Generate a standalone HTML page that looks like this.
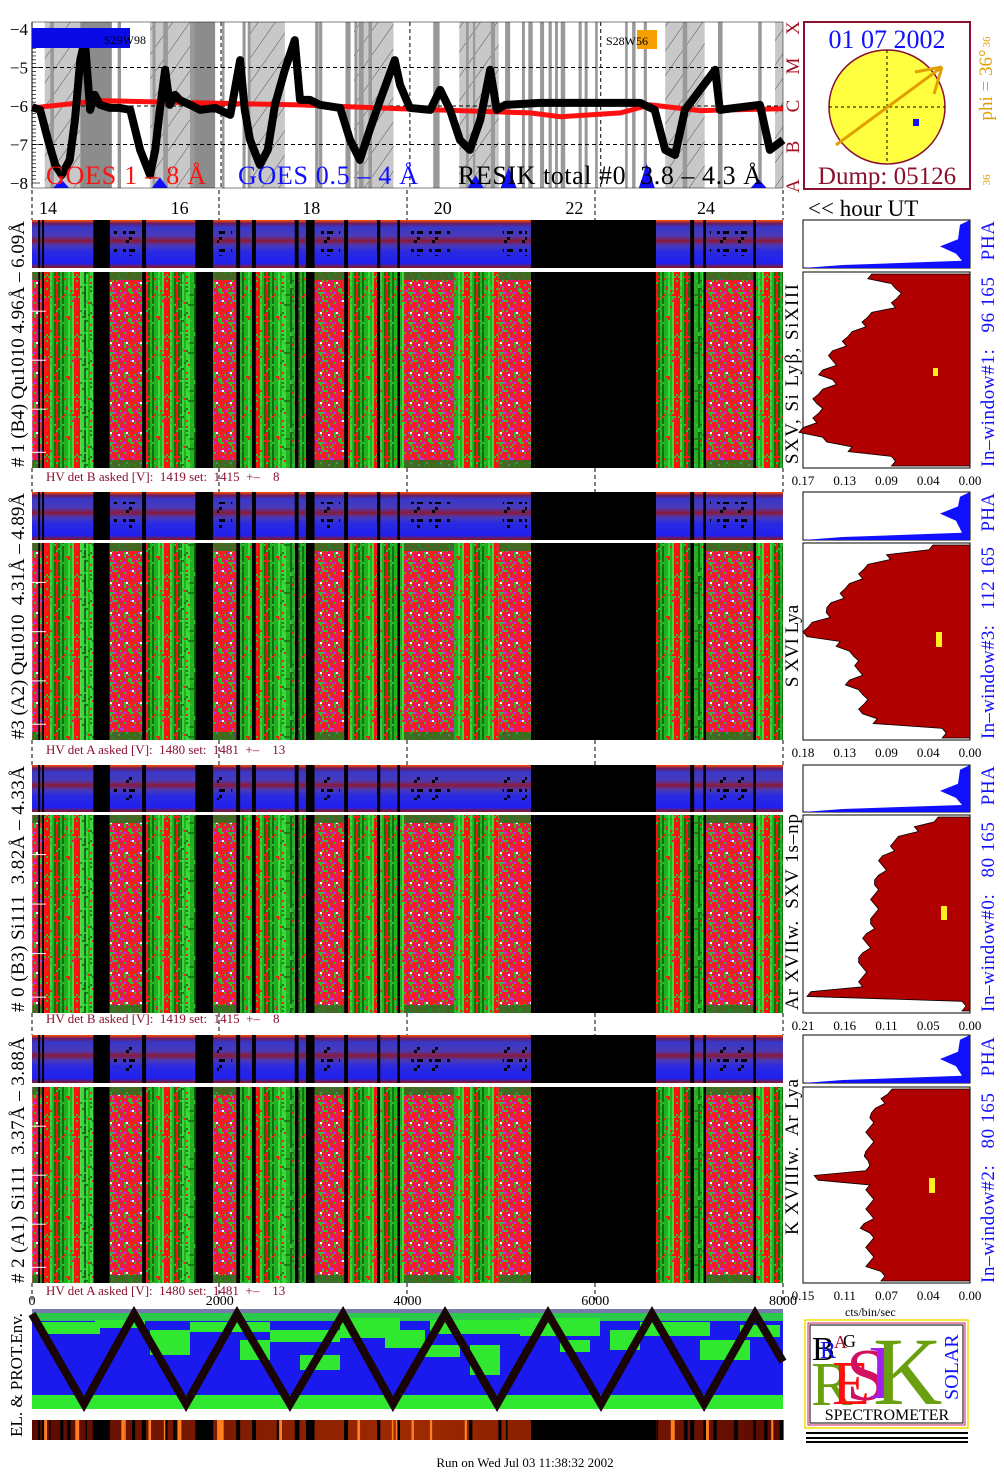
<!DOCTYPE html>
<html><head><meta charset="utf-8"><style>
html,body{margin:0;padding:0;background:#fff;}
svg{display:block;font-family:"Liberation Serif",serif;}
svg text{white-space:pre;}
</style></head><body>
<svg id="root" width="1004" height="1476" viewBox="0 0 1004 1476" xmlns="http://www.w3.org/2000/svg">
<defs>
<pattern id="hatch" width="14" height="14" patternUnits="userSpaceOnUse" patternTransform="rotate(35)">
<rect width="14" height="14" fill="#c8c8c8"/><line x1="0" y1="0" x2="0" y2="14" stroke="#555" stroke-width="1"/></pattern>
<linearGradient id="phaGrad" x1="0" y1="0" x2="0" y2="1">
<stop offset="0" stop-color="#ff5000"/><stop offset="0.07" stop-color="#6a1a60"/><stop offset="0.15" stop-color="#3838c8"/>
<stop offset="0.33" stop-color="#4a3ab8"/><stop offset="0.43" stop-color="#8a1a3a"/><stop offset="0.53" stop-color="#4a3ab8"/>
<stop offset="0.65" stop-color="#2a2ae0"/><stop offset="0.9" stop-color="#2020f0"/><stop offset="1" stop-color="#901818"/></linearGradient>
<linearGradient id="strip" x1="0" y1="0" x2="1" y2="0">
<stop offset="0" stop-color="#5a0a00"/><stop offset="0.5" stop-color="#a02a00"/><stop offset="1" stop-color="#5a0a00"/></linearGradient>
</defs>
<g id="top-panel"></g>
<g id="spec"></g>
<g id="hist"></g>
<g id="env"></g>

<text x="46" y="184" font-size="26" fill="#ff1010" textLength="160">GOES 1 – 8 Å</text>
<text x="238" y="184" font-size="26" fill="#1010ff" textLength="180">GOES 0.5 – 4 Å</text>
<text x="458" y="184" font-size="26" fill="#000" textLength="304">RESIK total #0  3.8 – 4.3 Å</text>
<rect x="32" y="28" width="98" height="20" fill="#0a0ae6"/>
<text x="104" y="44" font-size="12" fill="#000">S29W98</text>
<rect x="637" y="30" width="20" height="19" fill="#f5a000"/>
<text x="606" y="45" font-size="12" fill="#000">S28W56</text>

<g fill="#a01020" font-size="19">
<text transform="translate(799,28) rotate(-90)" text-anchor="middle">X</text>
<text transform="translate(799,66) rotate(-90)" text-anchor="middle">M</text>
<text transform="translate(799,106) rotate(-90)" text-anchor="middle">C</text>
<text transform="translate(799,147) rotate(-90)" text-anchor="middle">B</text>
<text transform="translate(799,186) rotate(-90)" text-anchor="middle">A</text>
</g>

<g>
<rect x="804" y="22" width="166" height="167" fill="#fff" stroke="#8a1030" stroke-width="2"/>
<text x="887" y="48" font-size="26" fill="#1010ff" text-anchor="middle">01 07 2002</text>
<ellipse cx="887" cy="107" rx="58" ry="57" fill="#ffff40" stroke="#8a1030" stroke-width="1.5"/>
<line x1="829" y1="107" x2="945" y2="107" stroke="#000" stroke-dasharray="3,3"/>
<line x1="887" y1="50" x2="887" y2="164" stroke="#000" stroke-dasharray="3,3"/>
<line x1="836" y1="145" x2="942" y2="67" stroke="#e0a000" stroke-width="3"/>
<line x1="942" y1="67" x2="915" y2="72" stroke="#e0a000" stroke-width="3"/>
<line x1="942" y1="67" x2="934" y2="94" stroke="#e0a000" stroke-width="3"/>
<rect x="913" y="119" width="6" height="7" fill="#1010ff"/>
<text x="887" y="184" font-size="25" fill="#8a1030" text-anchor="middle">Dump: 05126</text>
<text transform="translate(992,85) rotate(-90)" font-size="19" fill="#e0a000" text-anchor="middle">phi = 36°</text>
<text transform="translate(990,42) rotate(-90)" font-size="11" fill="#e0a000" text-anchor="middle">36</text>
<text transform="translate(990,180) rotate(-90)" font-size="11" fill="#e0a000" text-anchor="middle">36</text>
</g>
<text x="808" y="216" font-size="23" fill="#000">&lt;&lt; hour UT</text>

<g fill="#000" font-size="19">
<text transform="translate(24,344) rotate(-90)" text-anchor="middle" textLength="246"># 1 (B4) Qu1010 4.96Å – 6.09Å</text>
<text transform="translate(24,616) rotate(-90)" text-anchor="middle" textLength="246">#3 (A2) Qu1010  4.31Å – 4.89Å</text>
<text transform="translate(24,889) rotate(-90)" text-anchor="middle" textLength="246"># 0 (B3) Si111  3.82Å – 4.33Å</text>
<text transform="translate(24,1160) rotate(-90)" text-anchor="middle" textLength="246"># 2 (A1) Si111  3.37Å – 3.88Å</text>
<text transform="translate(798,374) rotate(-90)" text-anchor="middle" textLength="180">SXV, Si Lyβ, SiXIII</text>
<text transform="translate(798,646) rotate(-90)" text-anchor="middle">S XVI Lya</text>
<text transform="translate(798,912) rotate(-90)" text-anchor="middle" textLength="196">Ar XVIIw.  SXV 1s–np</text>
<text transform="translate(798,1157) rotate(-90)" text-anchor="middle" textLength="156">K XVIIIw.  Ar Lya</text>
</g>
<g fill="#1010ff" font-size="19">
<text transform="translate(994,344) rotate(-90)" text-anchor="middle" textLength="246">In–window#1:   96 165   PHA</text>
<text transform="translate(994,616) rotate(-90)" text-anchor="middle" textLength="246">In–window#3:   112 165   PHA</text>
<text transform="translate(994,889) rotate(-90)" text-anchor="middle" textLength="246">In–window#0:   80 165   PHA</text>
<text transform="translate(994,1160) rotate(-90)" text-anchor="middle" textLength="246">In–window#2:   80 165   PHA</text>
</g>
<g fill="#8a1030" font-size="13">
<text x="46" y="481">HV det B asked [V]:  1419 set:  1415  +–    8</text>
<text x="46" y="754">HV det A asked [V]:  1480 set:  1481  +–    13</text>
<text x="46" y="1023">HV det B asked [V]:  1419 set:  1415  +–    8</text>
<text x="46" y="1295">HV det A asked [V]:  1480 set:  1481  +–    13</text>
</g>
<text x="845" y="1316" font-size="12" fill="#000">cts/bin/sec</text>
<text transform="translate(22,1375) rotate(-90)" font-size="17" fill="#000" text-anchor="middle">EL. &amp; PROT.Env.</text>
<text x="525" y="1467" font-size="13" fill="#000" text-anchor="middle">Run on Wed Jul 03 11:38:32 2002</text>

<g>
<rect x="805" y="1320" width="163" height="108" fill="#fff" stroke="#f0e000" stroke-width="1.5"/>
<rect x="808" y="1323" width="157" height="102" fill="none" stroke="#d02060" stroke-width="1"/>
<rect x="810" y="1325" width="153" height="98" fill="none" stroke="#000" stroke-width="1"/>
<text x="812" y="1360" font-size="34" fill="#000">B</text>
<text x="820" y="1358" font-size="24" fill="#1010ff">R</text>
<text x="834" y="1348" font-size="18" fill="#a01030">A</text>
<text x="843" y="1347" font-size="18" fill="#000">G</text>
<text x="811" y="1405" font-size="62" fill="#6aa010">R</text>
<text x="832" y="1404" font-size="62" fill="#ff1010">E</text>
<text x="846" y="1400" font-size="74" fill="#d01060">S</text>
<text x="868" y="1398" font-size="76" fill="#a020f0">I</text>
<text x="873" y="1404" font-size="96" fill="#6aa010">K</text>
<text transform="translate(958,1400) rotate(-90)" font-size="20" fill="#1010ff">SOLAR</text>
<text x="887" y="1420" font-size="16" fill="#000" text-anchor="middle">SPECTROMETER</text>
<rect x="806" y="1432" width="162" height="2" fill="#000"/><rect x="806" y="1437" width="162" height="2" fill="#000"/><rect x="806" y="1441" width="162" height="2" fill="#000"/>
</g>
</svg>
<script>
// ===== data =====
const hourTicks = [14,16,18,20,22,24];
const logTicks = [-4,-5,-6,-7,-8];
const goesHours = [13.76,13.88,14.0,14.11,14.21,14.33,14.41,14.49,14.56,14.64,14.71,14.79,14.94,15.09,15.25,15.40,15.55,15.63,15.70,15.78,15.85,15.93,16.0,16.16,16.31,16.54,16.77,16.92,16.99,17.07,17.22,17.34,17.45,17.60,17.75,17.83,17.98,18.13,18.44,18.59,18.74,18.89,19.05,19.27,19.35,19.50,19.81,19.96,20.11,20.26,20.41,20.57,20.72,20.82,20.95,21.48,23.0,23.22,23.38,23.53,23.68,23.91,24.14,24.21,24.82,24.97,25.17];
const resikLog = [-6.03,-6.10,-6.88,-7.53,-7.79,-7.40,-6.36,-4.81,-4.29,-6.10,-5.71,-5.97,-6.05,-6.05,-6.10,-7.14,-7.79,-7.14,-6.10,-5.06,-5.97,-5.71,-5.84,-5.97,-6.10,-6.05,-6.23,-4.81,-6.10,-6.88,-7.53,-7.14,-5.97,-5.06,-4.29,-5.84,-5.84,-5.97,-6.05,-6.88,-7.40,-6.62,-5.84,-4.81,-5.45,-6.05,-6.10,-5.58,-6.10,-6.88,-7.14,-6.36,-5.06,-6.10,-5.97,-5.92,-5.92,-6.10,-7.14,-7.27,-6.10,-5.58,-5.06,-6.10,-5.97,-7.14,-6.88];
const goesRedHours = [13.76,14.79,16.31,17.83,19.35,20.26,21.33,21.79,22.70,23.15,23.91,25.17];
const goesRedLog = [-6.05,-5.86,-5.92,-5.97,-6.07,-6.12,-6.18,-6.28,-6.18,-5.97,-6.12,-6.07];
const gapHoursHatch = [[13.95,14.49],[15.55,16.16],[17.07,17.60],[18.65,19.25],[20.25,20.85],[23.38,23.98],[25.05,25.17]];
const gapHoursSolid = [[14.49,14.97],[16.16,16.54]];
const segStart = [13.76,13.85,13.88,13.91,13.94,14.03,14.49,14.69,14.94,15.43,15.49,16.01,16.24,16.51,16.86,16.92,17.10,17.16,17.52,17.75,17.81,17.92,18.05,18.50,18.56,19.00,19.05,19.31,19.35,19.41,20.17,20.85,21.34,21.40,23.24,23.76,23.82,23.96,24.00,24.72,24.76,25.17];
const segKind  = ['P','K','P','K','S','S','G','K','P','K','S','G','K','P','K','S','K','S','G','K','S','K','P','K','S','K','S','K','S','P','S','P','K','K','S','K','G','K','P','K','S'];
const histMax = [0.17,0.18,0.21,0.15];
const histTicks = [["0.17","0.13","0.09","0.04","0.00"],["0.18","0.13","0.09","0.04","0.00"],["0.21","0.16","0.11","0.05","0.00"],["0.15","0.11","0.07","0.04","0.00"]];
const histProfiles = [
 [0.10,0.08,0.07,0.08,0.10,0.11,0.12,0.13,0.14,0.14,0.15,0.14,0.15,0.16,0.15,0.16,0.17,0.15,0.12,0.08],
 [0.04,0.09,0.11,0.12,0.13,0.14,0.15,0.155,0.17,0.18,0.14,0.13,0.12,0.12,0.13,0.12,0.11,0.12,0.10,0.03],
 [0.04,0.07,0.09,0.10,0.11,0.11,0.115,0.12,0.12,0.12,0.12,0.125,0.13,0.13,0.135,0.14,0.13,0.14,0.20,0.01],
 [0.07,0.08,0.085,0.09,0.09,0.09,0.09,0.095,0.09,0.14,0.09,0.09,0.09,0.09,0.095,0.09,0.09,0.09,0.09,0.08]];
const phaPeak = [0.55,0.45,0.55,0.5];
const envTicks = [0,2000,4000,6000,8000];
const envBins = [0,554,1087,1641,2184,2748,3313,3845,4400,4954,5497,6061,6605,7159,7702,8000];
const envLevel = [1,0,1,0,1,0,1,0,1,0,1,0,1,0,1,0.47];

(function(){
const NS='http://www.w3.org/2000/svg';
const xH = h => 48 + (h-14)*65.8;
const yL = v => 29 + (-4 - v)*38.5;
const X0=32, X1=783;
function mk(tag, attrs, parent){const e=document.createElementNS(NS,tag);for(const k in attrs)e.setAttribute(k,attrs[k]);parent.appendChild(e);return e;}
let seed=12345; function rnd(){seed=(seed*1103515245+12345)%2147483648;return seed/2147483648;}

// ===== top panel =====
const tp=document.getElementById('top-panel');
const TY0=22, TY1=188;
gapHoursHatch.forEach(g=>{const r=mk('rect',{x:xH(g[0]),y:TY0,width:xH(g[1])-xH(g[0]),height:TY1-TY0,fill:'url(#hatch)'},tp);

});
gapHoursSolid.forEach(g=>{const r=mk('rect',{x:xH(g[0]),y:TY0,width:xH(g[1])-xH(g[0]),height:TY1-TY0,fill:'#8c8c8c'},tp);

});
for(let i=0;i<40;i++){const h=13.8+rnd()*11.3;mk('rect',{x:xH(h),y:TY0,width:2+rnd()*3,height:TY1-TY0,fill:'#999'},tp);}
[-5,-6,-7].forEach(v=>mk('line',{x1:X0,x2:X1,y1:yL(v),y2:yL(v),stroke:'#000','stroke-dasharray':'4,3','stroke-width':1},tp));
[16.63,19.5,22.4].forEach(h=>mk('line',{x1:xH(h),x2:xH(h),y1:TY0,y2:TY1,stroke:'#000','stroke-dasharray':'4,3'},tp));
mk('line',{x1:X0,x2:X0,y1:TY0,y2:TY1,stroke:'#000'},tp);
for(let i=0;i<=40;i++){const v=-8+i*0.1;mk('line',{x1:X0,x2:X0+(i%10===0?8:4),y1:yL(v),y2:yL(v),stroke:'#000','stroke-width':0.7},tp);}
logTicks.forEach(v=>{const t=mk('text',{x:28,y:yL(v)+6,'font-size':17,'text-anchor':'end',fill:'#000'},tp);t.textContent=String(v).replace('-','−');

});
const blueBits=[[14.2,-7.9],[15.7,-7.85],[20.5,-7.8],[21.0,-7.6],[23.1,-7.5],[24.8,-7.9]];
blueBits.forEach(b=>mk('path',{d:`M${xH(b[0])-8},${TY1} L${xH(b[0])},${yL(b[1])} L${xH(b[0])+8},${TY1} Z`,fill:'#1010ff'},tp));
let rp=goesRedHours.map((h,i)=>(i?'L':'M')+xH(h)+','+yL(goesRedLog[i])).join(' ');
const red=mk('path',{d:rp,fill:'none',stroke:'#ff1010','stroke-width':5},tp);


let bp=goesHours.map((h,i)=>(i?'L':'M')+xH(h)+','+yL(resikLog[i])).join(' ');
const blk=mk('path',{d:bp,fill:'none',stroke:'#000','stroke-width':8,'stroke-linejoin':'round'},tp);


mk('rect',{x:X0,y:TY0,width:X1-X0,height:TY1-TY0,fill:'none',stroke:'#000','stroke-width':0.5},tp);
hourTicks.forEach(h=>{const t=mk('text',{x:xH(h),y:214,'font-size':18,'text-anchor':'middle',fill:'#000'},tp);t.textContent=h;

});

// ===== spectrogram textures =====
const defs=document.querySelector('defs');
function pat(id,w,h,cell,colors,weights,cols){const p=mk('pattern',{id:id,width:w,height:h,patternUnits:'userSpaceOnUse'},defs);
 for(let x=0;x<w;x+=cell){let colc=null;if(cols){let r=rnd(),a=0;for(let k=0;k<cols.c.length;k++){a+=cols.w[k];if(r<a){colc=cols.c[k];break;}}}
  if(colc)mk('rect',{x:x,y:0,width:cell,height:h,fill:colc},p);
  for(let y=0;y<h;y+=cell){if(colc&&rnd()<0.85)continue;let r=rnd(),a=0,c=colors[0];for(let k=0;k<colors.length;k++){a+=weights[k];if(r<a){c=colors[k];break;}}if(c!=='none')mk('rect',{x:x,y:y,width:cell,height:cell,fill:c},p);}}}
pat('pink',30,30,2,['#ff1a1a','#e01870','#2fc02f','#a040ff','#ffffff','#c03030'],[0.45,0.25,0.15,0.06,0.02,0.07]);
pat('stripe',30,60,2,['#ff1a1a','#2fc02f','#e01870'],[0.4,0.5,0.1],{c:['#ff1010','#20b020','#3cd83c','#107010'],w:[0.4,0.28,0.17,0.15]});
pat('green',24,48,2,['#2fc02f','#1a7a1a','#ff1a1a'],[0.5,0.4,0.1],{c:['#20b020','#3cd83c','#0e6a0e'],w:[0.4,0.3,0.3]});
pat('speck',18,18,3,['#000','none'],[0.15,0.85]);

const spec=document.getElementById('spec');
const groups=[[220,268,272,468],[492,540,543,740],[765,812,815,1013],[1035,1083,1087,1283]];
const kindFill={P:'url(#pink)',S:'url(#stripe)',G:'url(#green)',K:'#000'};
groups.forEach((g,gi)=>{
 const sg=mk('g',{},spec);
 
 
 mk('rect',{x:X0,y:g[0],width:X1-X0,height:g[1]-g[0],fill:'url(#phaGrad)'},sg);
 mk('line',{x1:X0,x2:X1,y1:g[1]+2,y2:g[1]+2,stroke:'#fff','stroke-width':1.5},sg);
 for(let i=0;i<segKind.length;i++){
  const xa=Math.max(X0,xH(segStart[i])), xb=Math.min(X1,xH(segStart[i+1])), k=segKind[i];
  if(xb<=xa)continue;
  if(k==='K')mk('rect',{x:xa,y:g[0],width:xb-xa,height:g[1]-g[0],fill:'#000'},sg);
  if(k==='P'&&xb-xa>8)mk('rect',{x:xa+4,y:g[0]+10,width:xb-xa-8,height:g[1]-g[0]-22,fill:'url(#speck)'},sg);
  const r=mk('rect',{x:xa,y:g[2],width:xb-xa,height:g[3]-g[2],fill:kindFill[k]},sg);
  
  
  if(k==='P'){mk('rect',{x:xa,y:g[2],width:xb-xa,height:8,fill:'#1a7a1a',opacity:0.8},sg);mk('rect',{x:xa,y:g[3]-8,width:xb-xa,height:8,fill:'#1a7a1a',opacity:0.8},sg);}
 }
 [0.2,0.45,0.7,0.92].forEach(f=>mk('line',{x1:X0,x2:X0+14,y1:g[2]+(g[3]-g[2])*f,y2:g[2]+(g[3]-g[2])*f,stroke:'#fff','stroke-width':1},sg));
 const gapTop = gi===0?190:groups[gi-1][3];
 [X0,219,407,595,X1].forEach(x=>mk('line',{x1:x,x2:x,y1:gapTop,y2:g[0],stroke:'#000','stroke-dasharray':'4,3'},sg));
});
[X0,219,407,595,X1].forEach(x=>mk('line',{x1:x,x2:x,y1:1283,y2:1300,stroke:'#000','stroke-dasharray':'4,3'},spec));

// ===== histograms =====
const hist=document.getElementById('hist');
const HX0=803, HX1=970;
const yellowPos=[[933,368,5,8],[936,632,6,15],[941,906,6,14],[929,1178,6,15]];
groups.forEach((g,gi)=>{
 const hg=mk('g',{},hist);
 
 
 mk('rect',{x:HX0,y:g[0],width:HX1-HX0,height:g[1]-g[0],fill:'#fff',stroke:'#000'},hg);
 const ph=g[1]-g[0], pk=phaPeak[gi];
 const pd=`M${HX1},${g[0]} L${HX1-10},${g[0]+ph*0.1} L${HX1-12},${g[0]+ph*(pk-0.15)} L${HX1-30},${g[0]+ph*pk} L${HX1-14},${g[0]+ph*(pk+0.15)} L${HX1-8},${g[0]+ph*0.85} L${HX0+40},${g[1]-3} L${HX0},${g[1]} L${HX1},${g[1]} Z`;
 const pp=mk('path',{d:pd,fill:'#1010ff'},hg);
 
 
 mk('rect',{x:HX0,y:g[2],width:HX1-HX0,height:g[3]-g[2],fill:'#fff',stroke:'#000'},hg);
 const prof=histProfiles[gi], n=prof.length, hh=(g[3]-g[2]-4)/n;
 const xv=v=>HX1-(v/histMax[gi])*(HX1-HX0);
 let d=`M${HX1},${g[2]+2}`;
 prof.forEach((v,i)=>{d+=` L${xv(v)},${g[2]+2+i*hh} L${xv(v)+(i%2?4:-4)},${g[2]+2+(i+0.5)*hh}`;});
 d+=` L${xv(prof[n-1])},${g[3]-2} L${HX1},${g[3]-2} Z`;
 const hp=mk('path',{d:d,fill:'#b00000',stroke:'#000','stroke-width':0.8},hg);
 
 
 const yp=yellowPos[gi];mk('rect',{x:yp[0],y:yp[1],width:yp[2],height:yp[3],fill:'#ffee20'},hg);
 histTicks[gi].forEach((t,i)=>{const tx=mk('text',{x:HX0+i*(HX1-HX0)/4,y:g[3]+17,'font-size':13,'text-anchor':'middle',fill:'#000'},hg);tx.textContent=t;
 
 });
});

// ===== envelope panel =====
const envg=document.getElementById('env');
const xE=v=>X0+v/8000*(X1-X0);
const yE=v=>1404-v*90;
mk('rect',{x:X0,y:1309,width:X1-X0,height:100,fill:'#1a1aee'},envg);
mk('rect',{x:X0,y:1309,width:X1-X0,height:4,fill:'#7a7aaa'},envg);
mk('rect',{x:X0,y:1395,width:X1-X0,height:14,fill:'#30e830'},envg);
mk('rect',{x:X0,y:1313,width:X1-X0,height:8,fill:'#30e830',opacity:0.85},envg);
const greenPatch=[[40,1322,60,12],[95,1320,50,8],[190,1322,80,10],[240,1340,30,20],[270,1330,70,12],[300,1355,40,15],[340,1318,60,20],[385,1330,40,18],[430,1320,90,14],[470,1345,30,30],[520,1318,80,18],[560,1340,30,12],[640,1322,70,14],[700,1340,50,20],[740,1325,40,12],[150,1330,40,25],[610,1330,30,20],[420,1345,40,12]];
greenPatch.forEach(p=>mk('rect',{x:p[0],y:p[1],width:p[2],height:p[3],fill:'#30e830'},envg));
const zz=mk('path',{d:envBins.map((b,i)=>(i?'L':'M')+xE(b)+','+yE(envLevel[i])).join(' '),fill:'none',stroke:'#1a0505','stroke-width':8},envg);


envTicks.forEach(t=>{const tx=mk('text',{x:xE(t),y:1305,'font-size':14,'text-anchor':'middle',fill:'#000'},envg);tx.textContent=t;

});
mk('rect',{x:X0,y:1420,width:X1-X0,height:20,fill:'url(#strip)'},envg);
for(let i=0;i<60;i++){const x=X0+rnd()*(X1-X0);mk('rect',{x:x,y:1420,width:1+rnd()*3,height:20,fill:rnd()<0.5?'#ff8020':'#000'},envg);}
segKind.forEach((k,i)=>{if(k==='K'){const xa=Math.max(X0,xH(segStart[i])),xb=Math.min(X1,xH(segStart[i+1]));if(xb>xa)mk('rect',{x:xa,y:1420,width:xb-xa,height:20,fill:'#000'},envg);}});
})();
</script>
</body></html>
